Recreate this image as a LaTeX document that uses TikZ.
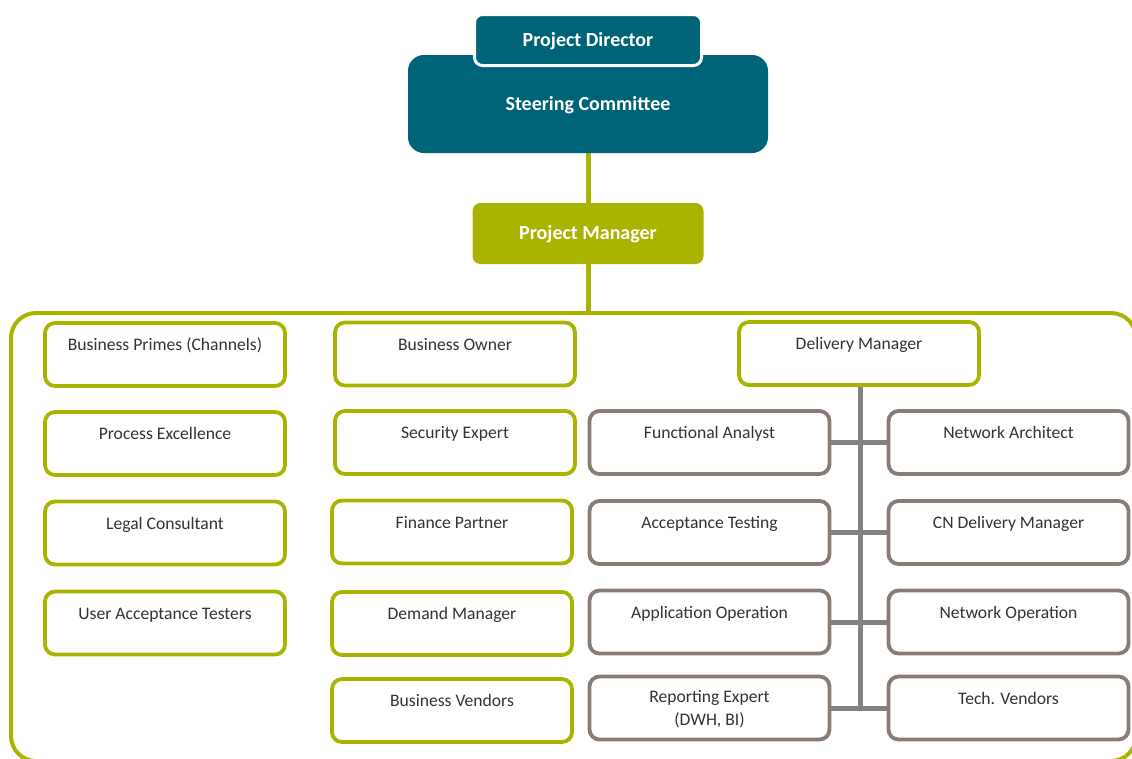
\documentclass[tikz,border=0pt]{standalone}
\usepackage{fontspec}
\setmainfont{Carlito}
\usetikzlibrary{backgrounds}
\definecolor{scteal}{HTML}{006478}
\definecolor{olivegreen}{HTML}{A9B400}
\definecolor{stone}{HTML}{877D76}
\definecolor{linkgray}{HTML}{828282}
\definecolor{inktext}{HTML}{333333}
\begin{document}
\begin{tikzpicture}[x=1pt,y=-1pt,
  head/.style={rounded corners=8pt, text=white, font=\bfseries\fontsize{20}{24}\selectfont,
               inner sep=0pt, text height=12pt, text depth=0pt},
  box/.style={draw, rounded corners=10pt, line width=3.8pt, fill=white,
              minimum width=240pt, minimum height=63pt, inner sep=0pt},
  obox/.style={box, draw=olivegreen},
  gbox/.style={box, draw=stone},
  lbl/.style={anchor=base, yshift=#1, align=center, text=inktext,
              font=\fontsize{17.6}{23}\selectfont, inner sep=0pt},
  lbl/.default=-29.5pt,
  olink/.style={draw=olivegreen, line width=5pt},
  glink/.style={draw=linkgray, line width=5pt}]
\useasboundingbox (0,0) rectangle (1132,758);
\clip (0,0) rectangle (1132,758);

% governance
\node[head, fill=scteal, rounded corners=16pt, minimum width=360pt, minimum height=98pt] (sc) at (588,104) {Steering Committee};
\node[head, fill=scteal, draw=white, line width=3pt, minimum width=227pt, minimum height=51pt] (pd) at (588,40) {Project Director};
\node[head, fill=olivegreen, minimum width=231pt, minimum height=61pt] (pm) at (588,233.5) {Project Manager};

% project team frame
\node[draw=olivegreen, line width=4pt, rounded corners=25pt, minimum width=1125pt, minimum height=448pt, inner sep=0pt] (team) at (573.5,537) {};

% business side
\node[obox, label={[lbl]north:Business Primes (Channels)}] (bp) at (165,354.5) {};
\node[obox, label={[lbl]north:Process Excellence}] (pe) at (165,443.5) {};
\node[obox, label={[lbl]north:Legal Consultant}] (lc) at (165,533) {};
\node[obox, label={[lbl]north:User Acceptance Testers}] (ua) at (165,623) {};

\node[obox, label={[lbl]north:Business Owner}] (bo) at (455,354) {};
\node[obox, label={[lbl]north:Security Expert}] (se) at (455,442.5) {};
\node[obox, label={[lbl]north:Finance Partner}] (fp) at (452,532) {};
\node[obox, label={[lbl]north:Demand Manager}] (dmd) at (452,623.5) {};
\node[obox, label={[lbl]north:Business Vendors}] (bv) at (452,710.5) {};

% delivery side
\node[obox, label={[lbl]north:Delivery Manager}] (dm) at (859,353.5) {};

\node[gbox, label={[lbl]north:Functional Analyst}] (fa) at (709.5,442.5) {};
\node[gbox, label={[lbl]north:Acceptance Testing}] (at) at (709.5,532.5) {};
\node[gbox, label={[lbl]north:Application Operation}] (ao) at (709.5,622) {};
\node[gbox, label={[lbl=-51pt]north:Reporting Expert\\(DWH, BI)}] (re) at (709.5,708) {};

\node[gbox, label={[lbl]north:Network Architect}] (na) at (1008.5,442.5) {};
\node[gbox, label={[lbl]north:CN Delivery Manager}] (cn) at (1008.5,532.5) {};
\node[gbox, label={[lbl]north:Network Operation}] (no) at (1008.5,622) {};
\node[gbox, label={[lbl]north:Tech. Vendors}] (tv) at (1008.5,708) {};

\coordinate (spine) at (860,708);

\begin{scope}[on background layer]
  \draw[olink] (sc.south) -- (pm.north);
  \draw[olink] (pm.south) -- (pm.south |- team.north);
  \draw[glink] (dm.south -| spine) -- (spine);
  \draw[glink] (fa.east) -- (na.west);
  \draw[glink] (at.east) -- (cn.west);
  \draw[glink] (ao.east) -- (no.west);
  \draw[glink] (re.east) -- (tv.west);
\end{scope}
\end{tikzpicture}
\end{document}
